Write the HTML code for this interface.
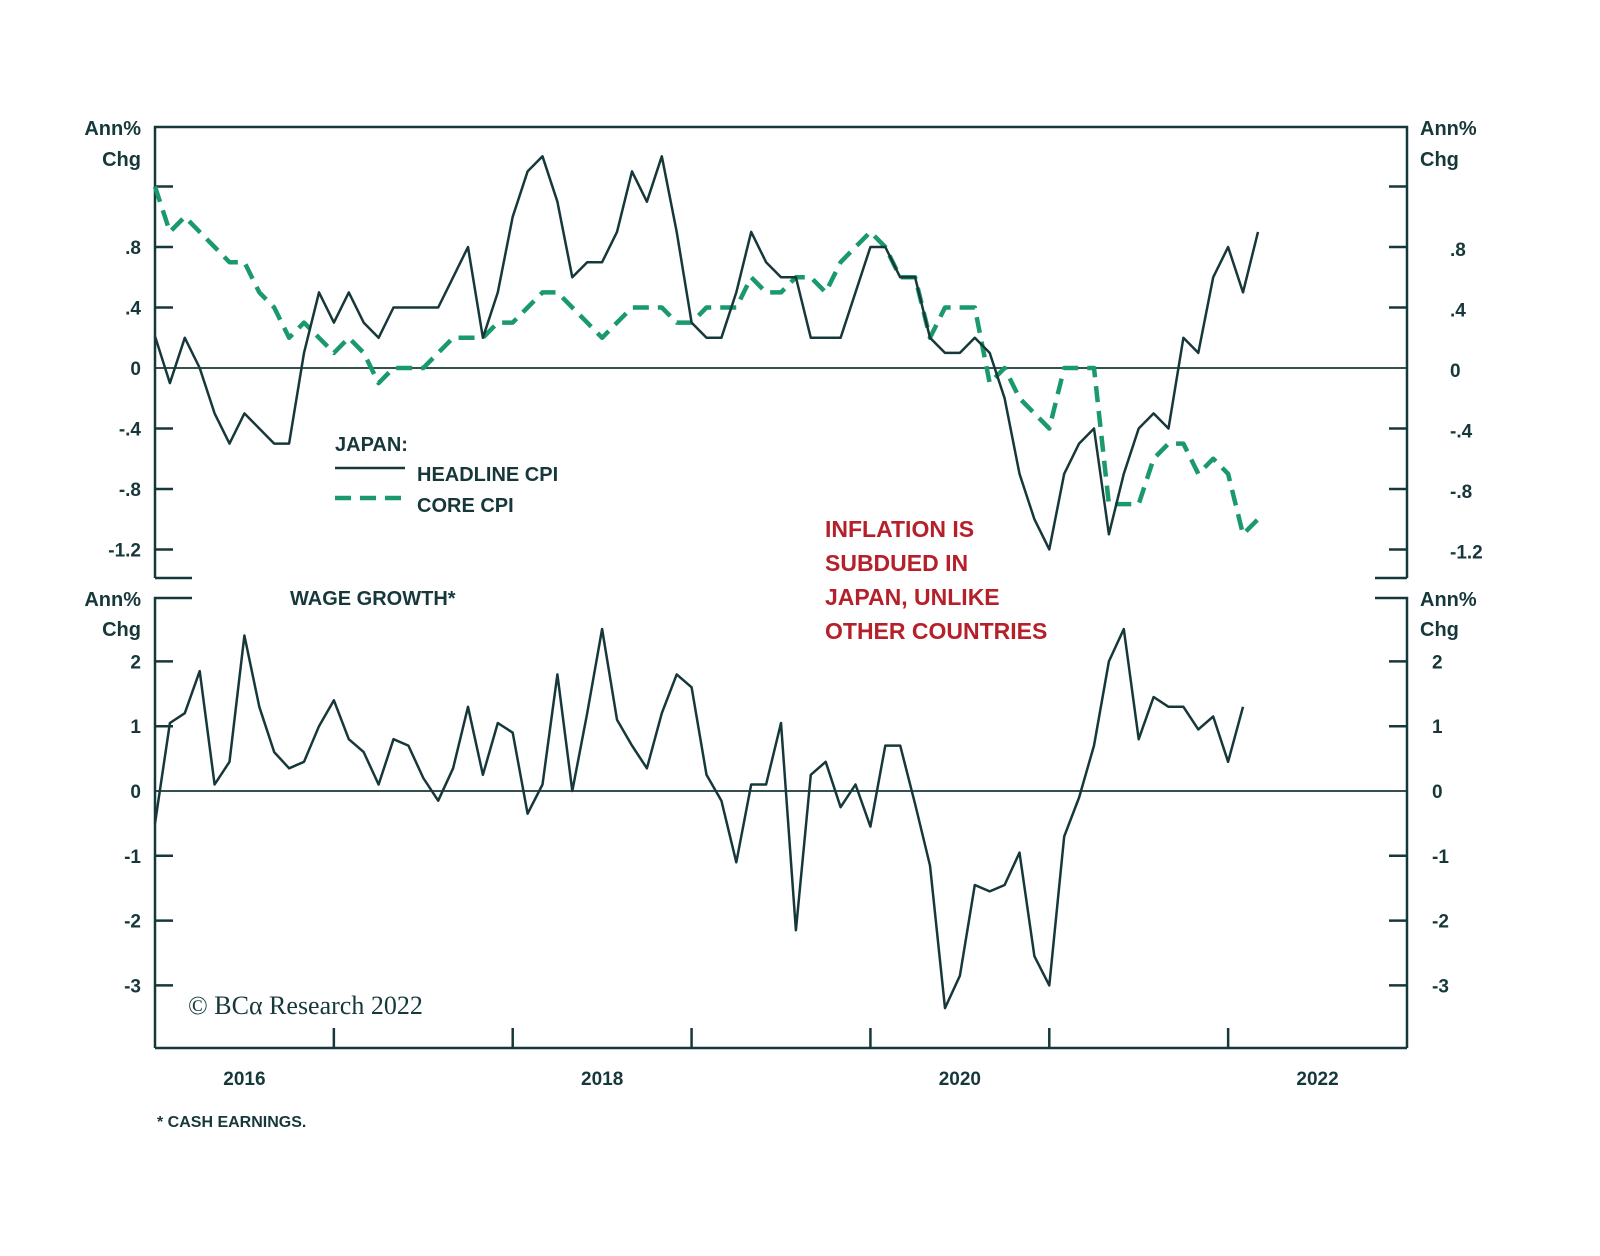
<!DOCTYPE html>
<html><head><meta charset="utf-8"><style>
html,body{margin:0;padding:0;background:#fff;}
svg text{font-family:"Liberation Sans",sans-serif;}
</style></head>
<body>
<svg id="chart" width="1600" height="1251" viewBox="0 0 1600 1251" xmlns="http://www.w3.org/2000/svg">
<g id="frame" stroke="#17383a" stroke-width="2.5" fill="none"></g>
<g id="labels" fill="#17383a" font-weight="bold" font-size="19"></g>
<g id="series"></g>
<g>
<text x="335" y="451" font-size="20" font-weight="bold" fill="#17383a">JAPAN:</text>
<line x1="335" y1="468" x2="405" y2="468" stroke="#17383a" stroke-width="2.5"/>
<text x="417" y="481" font-size="20" font-weight="bold" fill="#17383a">HEADLINE CPI</text>
<line x1="335" y1="498" x2="405" y2="498" stroke="#1a9a6c" stroke-width="4.5" stroke-dasharray="16,9"/>
<text x="417" y="512" font-size="20" font-weight="bold" fill="#17383a">CORE CPI</text>
</g>
<g font-size="23" fill="#b5202a" font-weight="bold">
<text x="825" y="537">INFLATION IS</text>
<text x="825" y="571">SUBDUED IN</text>
<text x="825" y="605">JAPAN, UNLIKE</text>
<text x="825" y="639">OTHER COUNTRIES</text>
</g>
<text x="290" y="605" font-size="20" font-weight="bold" fill="#17383a">WAGE GROWTH*</text>
<text x="188" y="1014" font-size="26" fill="#17383a" style="font-family:'Liberation Serif',serif">© BCα Research 2022</text>
<text x="157" y="1127" font-size="16" font-weight="bold" fill="#17383a">* CASH EARNINGS.</text>
</svg>
<script>
const headline=[0.21,-0.1,0.2,0.0,-0.3,-0.5,-0.3,-0.4,-0.5,-0.5,0.1,0.5,0.3,0.5,0.3,0.2,0.4,0.4,0.4,0.4,0.6,0.8,0.2,0.5,1.0,1.3,1.4,1.1,0.6,0.7,0.7,0.9,1.3,1.1,1.4,0.9,0.3,0.2,0.2,0.5,0.9,0.7,0.6,0.6,0.2,0.2,0.2,0.5,0.8,0.8,0.6,0.6,0.2,0.1,0.1,0.2,0.1,-0.2,-0.7,-1.0,-1.2,-0.7,-0.5,-0.4,-1.1,-0.7,-0.4,-0.3,-0.4,0.2,0.1,0.6,0.8,0.5,0.9];
const core=[1.2,0.9,1.0,0.9,0.8,0.7,0.7,0.5,0.4,0.2,0.3,0.2,0.1,0.2,0.1,-0.1,0.0,0.0,0.0,0.1,0.2,0.2,0.2,0.3,0.3,0.4,0.5,0.5,0.4,0.3,0.2,0.3,0.4,0.4,0.4,0.3,0.3,0.4,0.4,0.4,0.6,0.5,0.5,0.6,0.6,0.5,0.7,0.8,0.9,0.8,0.6,0.6,0.2,0.4,0.4,0.4,-0.1,0.0,-0.2,-0.3,-0.4,0.0,0.0,0.0,-0.9,-0.9,-0.9,-0.6,-0.5,-0.5,-0.7,-0.6,-0.7,-1.1,-1.0];
const wage=[-0.5,1.05,1.2,1.85,0.1,0.45,2.4,1.3,0.6,0.35,0.45,1.0,1.4,0.8,0.6,0.1,0.8,0.7,0.2,-0.15,0.35,1.3,0.25,1.05,0.9,-0.35,0.1,1.8,0.0,1.2,2.5,1.1,0.7,0.35,1.2,1.8,1.6,0.25,-0.15,-1.1,0.1,0.1,1.05,-2.15,0.25,0.45,-0.25,0.1,-0.55,0.7,0.7,-0.2,-1.15,-3.35,-2.85,-1.45,-1.55,-1.45,-0.95,-2.55,-3.0,-0.7,-0.1,0.7,2.0,2.5,0.8,1.45,1.3,1.3,0.95,1.15,0.45,1.3];
const topTicks=[".8",".4","0","-.4","-.8","-1.2"];
const topTickVals=[0.8,0.4,0,-0.4,-0.8,-1.2];
const botTicks=["2","1","0","-1","-2","-3"];
const botTickVals=[2,1,0,-1,-2,-3];
const years=["2016","2018","2020","2022"];
const yearVals=[2016,2018,2020,2022];

const X0=155,X1=1407;
const xYear=t=>X0+(t-2016)*(X1-X0)/7;
const xMonth=i=>xYear(2016+i/12);
const yTop=v=>368-v*151.2;
const yBot=v=>791-v*64.8;
const NS="http://www.w3.org/2000/svg";
function mk(tag,parent,attrs){const e=document.createElementNS(NS,tag);for(const k in attrs)e.setAttribute(k,attrs[k]);parent.appendChild(e);return e;}
const frame=document.getElementById('frame');
const labels=document.getElementById('labels');
const series=document.getElementById('series');
const C="#17383a";
let p=mk('path',frame,{d:`M${X0},578 V127 H${X1} V578 M${X0},578 H192 M${X1},578 H1375 M${X0},1048 V598 H192 M${X1},1048 V598 H1375 M${X0},1048 H${X1}`});


[1.2,...topTickVals].forEach(v=>{
  const y=yTop(v);
  if(v!==0){let t=mk('path',frame,{d:`M${X0},${y} H${X0+18} M${X1},${y} H${X1-18}`});
  
  }
});
topTickVals.forEach((v,i)=>{
  const y=yTop(v)+7;
  let a=mk('text',labels,{x:141,y:y,'text-anchor':'end'});a.textContent=topTicks[i];
  
  
  let b=mk('text',labels,{x:1450,y:y+2,'text-anchor':'start'});b.textContent=topTicks[i];
  
  
});
botTickVals.forEach((v,i)=>{
  const y=yBot(v);
  if(v!==0){let t=mk('path',frame,{d:`M${X0},${y} H${X0+18} M${X1},${y} H${X1-18}`});
  
  }
  let a=mk('text',labels,{x:141,y:y+7,'text-anchor':'end'});a.textContent=botTicks[i];
  
  
  let b=mk('text',labels,{x:1432,y:y+7,'text-anchor':'start'});b.textContent=botTicks[i];
  
  
});
[[yTop(0)],[yBot(0)]].forEach(([y])=>{
  let z=mk('line',frame,{x1:X0,x2:X1,y1:y,y2:y,'stroke-width':1.8});
  
  
});
for(let yr=2017;yr<=2022;yr++){
  let t=mk('line',frame,{x1:xYear(yr),x2:xYear(yr),y1:1048,y2:1028});
  
  
}
yearVals.forEach((v,i)=>{
  let a=mk('text',labels,{x:xYear(v+0.5),y:1085,'text-anchor':'middle'});a.textContent=years[i];
  
  
});
[[141,'end'],[1420,'start']].forEach(([x,anc])=>{
  [[135,'Ann%'],[166,'Chg'],[606,'Ann%'],[636,'Chg']].forEach(([y,s])=>{
    let a=mk('text',labels,{x:x,y:y,'text-anchor':anc,'font-size':20});a.textContent=s;
    
    
  });
});
function line(data,yf,attrs,name){
  const d=data.map((v,i)=>(i?'L':'M')+xMonth(i).toFixed(1)+','+yf(v).toFixed(1)).join(' ');
  const e=mk('path',series,Object.assign({d:d,fill:'none','stroke-linejoin':'round'},attrs));
  
  
}
line(core,yTop,{stroke:'#1a9a6c','stroke-width':4.5,'stroke-dasharray':'16,9'},'core-cpi-line');
line(headline,yTop,{stroke:C,'stroke-width':2.5},'headline-cpi-line');
line(wage,yBot,{stroke:C,'stroke-width':2.5},'wage-growth-line');
</script>
</body></html>
